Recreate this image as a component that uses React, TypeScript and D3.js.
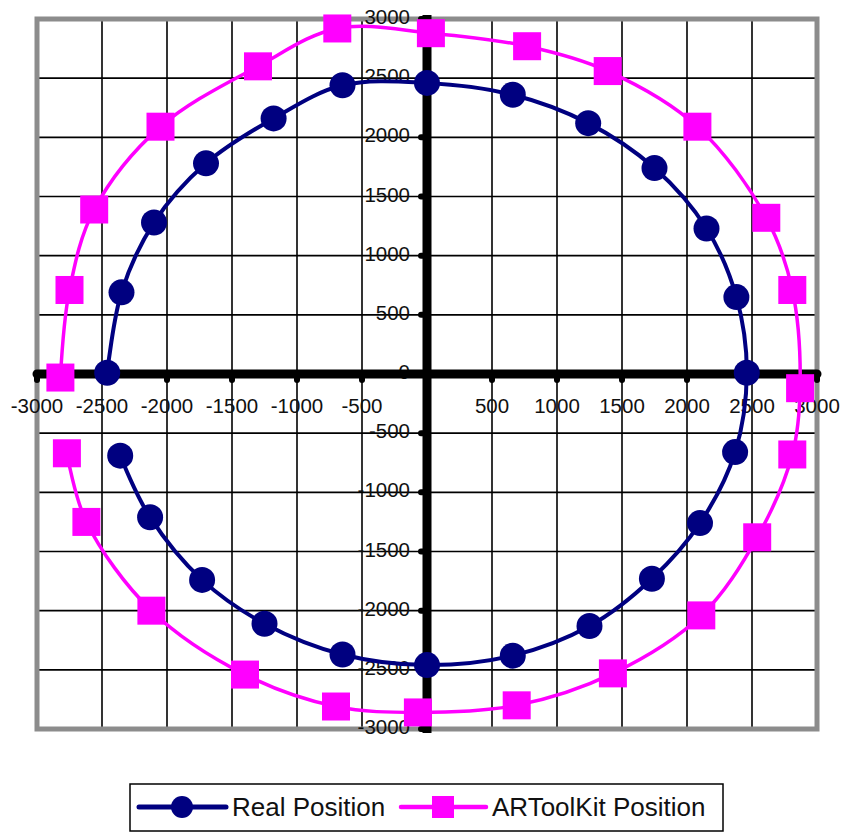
import React from "react";
import * as d3 from "d3";

const realX = [-2360, -2130, -1730, -1250, -650, 0, 660, 1250, 1730, 2100, 2370, 2460, 2380, 2150, 1750, 1240, 660, 0, -650, -1180, -1700, -2100, -2350, -2460];
const realY = [-690, -1210, -1740, -2110, -2370, -2460, -2380, -2130, -1730, -1260, -660, 10, 650, 1230, 1740, 2120, 2360, 2460, 2440, 2160, 1780, 1280, 690, 10];

const arX = [-2770, -2620, -2120, -1400, -700, -70, 690, 1430, 2110, 2540, 2810, 2870, 2810, 2610, 2080, 1390, 770, 30, -690, -1300, -2050, -2560, -2750, -2820];
const arY = [-670, -1250, -2000, -2540, -2810, -2860, -2800, -2530, -2040, -1380, -680, -120, 710, 1320, 2090, 2560, 2770, 2880, 2920, 2600, 2090, 1390, 710, -30];

const ticks = [-3000, -2500, -2000, -1500, -1000, -500, 0, 500, 1000, 1500, 2000, 2500, 3000];
const seriesNames = ["Real Position", "ARToolKit Position"];

const W = 845;
const H = 832;
const FONT = "'Liberation Sans', Arial, sans-serif";

export default function App() {
  const x = d3.scaleLinear().domain([-3000, 3000]).range([37, 817]);
  const y = d3.scaleLinear().domain([-3000, 3000]).range([729, 19]);

  const real = realX.map((v, i) => [v, realY[i]] as [number, number]);
  const ar = arX.map((v, i) => [v, arY[i]] as [number, number]);

  const line = d3
    .line<[number, number]>()
    .x((d) => x(d[0]))
    .y((d) => y(d[1]))
    .curve(d3.curveCatmullRom.alpha(0.5));

  const inner = ticks.filter((t) => t !== -3000 && t !== 3000 && t !== 0);
  const x0 = x(0);
  const y0 = y(0);
  const sq = 28;

  return (
    <svg
      width={W}
      height={H}
      style={{ position: "absolute", left: 0, top: 0, background: "#fff" }}
      fontFamily={FONT}
    >
      {/* grid */}
      {inner.map((t) => (
        <line key={"gx" + t} x1={x(t)} x2={x(t)} y1={y(3000)} y2={y(-3000)} stroke="#000" strokeWidth={1.6} />
      ))}
      {inner.map((t) => (
        <line key={"gy" + t} x1={x(-3000)} x2={x(3000)} y1={y(t)} y2={y(t)} stroke="#000" strokeWidth={1.6} />
      ))}
      {/* plot border */}
      <rect
        x={x(-3000)}
        y={y(3000)}
        width={x(3000) - x(-3000)}
        height={y(-3000) - y(3000)}
        fill="none"
        stroke="#8c8c8c"
        strokeWidth={5}
      />
      {/* tick labels */}
      {ticks
        .filter((t) => t !== 0)
        .map((t) => (
          <text key={"lx" + t} x={x(t)} y={413} textAnchor="middle" fontSize={20.5} fill="#111">
            {t}
          </text>
        ))}
      {ticks.map((t) => (
        <text key={"ly" + t} x={410} y={y(t) + 5} textAnchor="end" fontSize={20.5} fill="#111">
          {t}
        </text>
      ))}
      {/* axes */}
      {ticks.map((t) => (
        <line key={"tx" + t} x1={x(t)} x2={x(t)} y1={y0} y2={y0 + 6} stroke="#000" strokeWidth={6} strokeLinecap="round" />
      ))}
      {ticks.map((t) => (
        <line key={"ty" + t} x1={x0} x2={x0 - 6} y1={y(t)} y2={y(t)} stroke="#000" strokeWidth={6} strokeLinecap="round" />
      ))}
      <line x1={x(-3000)} x2={x(3000)} y1={y0} y2={y0} stroke="#000" strokeWidth={9} strokeLinecap="round" />
      <line x1={x0} x2={x0} y1={15} y2={733} stroke="#000" strokeWidth={9} />

      {/* series */}
      <path d={line(ar) || ""} fill="none" stroke="#ff00ff" strokeWidth={3.5} />
      <path d={line(real) || ""} fill="none" stroke="#000080" strokeWidth={4} />
      {ar.map((d, i) => (
        <rect key={"ar" + i} x={x(d[0]) - sq / 2} y={y(d[1]) - sq / 2} width={sq} height={sq} fill="#ff00ff" />
      ))}
      {real.map((d, i) => (
        <circle key={"re" + i} cx={x(d[0])} cy={y(d[1])} r={13} fill="#000080" />
      ))}

      {/* legend */}
      <rect x={130} y={784} width={593} height={47} fill="#fff" stroke="#000" strokeWidth={1.5} />
      <line x1={139} x2={226} y1={807} y2={807} stroke="#000080" strokeWidth={5} strokeLinecap="round" />
      <circle cx={182} cy={807} r={11} fill="#000080" />
      <text x={232} y={816} fontSize={26} fill="#111">
        {seriesNames[0]}
      </text>
      <line x1={401} x2={486} y1={807} y2={807} stroke="#ff00ff" strokeWidth={4.5} strokeLinecap="round" />
      <rect x={432} y={796} width={22} height={22} fill="#ff00ff" />
      <text x={492} y={816} fontSize={26} fill="#111">
        {seriesNames[1]}
      </text>
    </svg>
  );
}
